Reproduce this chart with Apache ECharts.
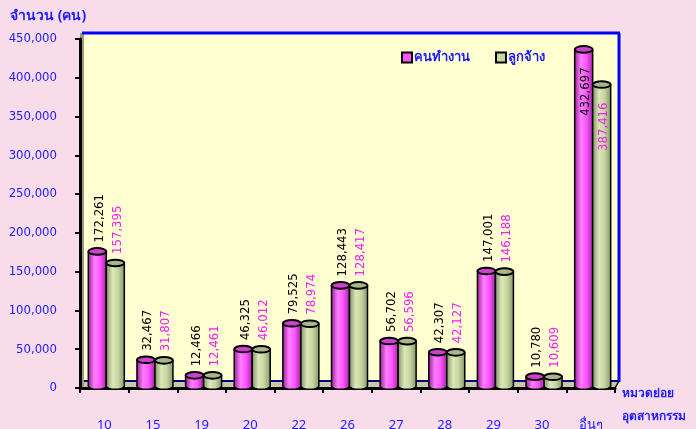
<!DOCTYPE html>
<html>
<head>
<meta charset="utf-8">
<script src="https://cdn.jsdelivr.net/npm/echarts@6/dist/echarts.min.js"></script>
<style>
  html, body { margin: 0; padding: 0; background: #f9dcea; }
  #chart { width: 696px; height: 429px; }
</style>
</head>
<body>
<div id="chart"></div>
<script>
// หมวดย่อยอุตสาหกรรม
const categories = ['10', '15', '19', '20', '22', '26', '27', '28', '29', '30', 'อื่นๆ']
// คนทำงาน
const workers = [172261, 32467, 12466, 46325, 79525, 128443, 56702, 42307, 147001, 10780, 432697]
// ลูกจ้าง
const employees = [157395, 31807, 12461, 46012, 78974, 128417, 56596, 42127, 146188, 10609, 387416]
const yTicks = [0, 50000, 100000, 150000, 200000, 250000, 300000, 350000, 400000, 450000]

const BLUE = '#1c1cff'
const NUM_FONT = '"DejaVu Sans Condensed", "DejaVu Sans", sans-serif'
const THAI_FONT = 'Tahoma, "Noto Sans", "DejaVu Sans", sans-serif'

const measure = document.createElement('canvas').getContext('2d')
measure.font = '13px ' + NUM_FONT

const fmt = (v) => v.toLocaleString('en-US')

// ทรงกระบอก 1 แท่ง (ยกขึ้น 3px ตามความลึก 3 มิติ)
const cylinderSeries = (name, data, side, colors) => ({
  name: name,
  type: 'custom',
  data: data.map((v, i) => [i, v]),
  encode: { x: 0, y: 1 },
  itemStyle: { color: colors.legend },
  z: 5,
  renderItem: (params, api) => {
    const value = api.value(1)
    const pt = api.coord([api.value(0), value])
    const top = pt[1] - 3
    const base = api.coord([api.value(0), 0])[1] - 2
    const rx = 9
    const ry = 3.3
    const cx = pt[0] + side * 9 + 2
    const grad = new echarts.graphic.LinearGradient(0, 0, 1, 0, colors.body)

    const text = fmt(value)
    const len = measure.measureText(text).width
    const outside = top - 9 - len > params.coordSys.y
    const label = outside
      ? { y: top - 9, align: 'left' }
      : { y: top + 18, align: 'right' }

    return {
      type: 'group',
      children: [
        {
          type: 'ellipse',
          shape: { cx: cx, cy: base, rx: rx, ry: ry },
          style: { fill: grad, stroke: '#000', lineWidth: 1.5 }
        },
        {
          type: 'rect',
          shape: { x: cx - rx, y: top, width: rx * 2, height: base - top },
          style: { fill: grad }
        },
        {
          type: 'line',
          shape: { x1: cx - rx, y1: top, x2: cx - rx, y2: base },
          style: { stroke: '#000', lineWidth: 1.5 }
        },
        {
          type: 'line',
          shape: { x1: cx + rx, y1: top, x2: cx + rx, y2: base },
          style: { stroke: '#000', lineWidth: 1.5 }
        },
        {
          type: 'ellipse',
          shape: { cx: cx, cy: top, rx: rx, ry: ry },
          style: { fill: colors.top, stroke: '#000', lineWidth: 2 }
        },
        {
          type: 'text',
          x: cx + 2,
          y: label.y,
          rotation: Math.PI / 2,
          style: {
            text: text,
            fill: colors.label,
            font: '13px ' + NUM_FONT,
            align: label.align,
            verticalAlign: 'middle'
          }
        }
      ]
    }
  }
})

const chart = echarts.init(document.getElementById('chart'))

const option = {
  backgroundColor: '#f9dcea',
  animation: false,
  title: {
    text: 'จำนวน (คน)',
    left: 5,
    top: 4,
    textStyle: { color: BLUE, fontSize: 14, fontWeight: 'bold', fontFamily: THAI_FONT }
  },
  legend: {
    left: 396,
    top: 46,
    icon: 'rect',
    itemWidth: 10,
    itemHeight: 10,
    itemGap: 25,
    itemStyle: { borderColor: '#000', borderWidth: 2 },
    textStyle: { color: BLUE, fontSize: 13, fontWeight: 'bold', fontFamily: THAI_FONT, padding: [0, 0, 0, -3] },
    data: ['คนทำงาน', 'ลูกจ้าง']
  },
  grid: { left: 80, right: 81, top: 39, bottom: 41, outerBoundsMode: 'none', containLabel: false },
  // ผนังหลัง / พื้น แบบ 3 มิติ
  graphic: [
    { type: 'rect', z: -10, shape: { x: 80, y: 33, width: 539, height: 355 }, style: { fill: '#ffffd2' } },
    { type: 'polygon', z: -9, shape: { points: [[80, 388], [80, 381], [619, 381], [615, 388]] }, style: { fill: '#c9c9aa' } },
    { type: 'line', z: -8, shape: { x1: 84, y1: 381, x2: 619, y2: 381 }, style: { stroke: '#000080', lineWidth: 2 } },
    { type: 'rect', z: -9, shape: { x: 80, y: 33, width: 4, height: 355 }, style: { fill: '#9a9a7e' } },
    { type: 'line', z: -8, shape: { x1: 82, y1: 33, x2: 620, y2: 33 }, style: { stroke: '#0000ff', lineWidth: 3 } },
    { type: 'line', z: -8, shape: { x1: 619, y1: 33, x2: 619, y2: 382 }, style: { stroke: '#0000ff', lineWidth: 3 } },
    { type: 'line', z: -8, shape: { x1: 619, y1: 381, x2: 615, y2: 388 }, style: { stroke: '#000', lineWidth: 1.5 } }
  ],
  xAxis: {
    type: 'category',
    data: categories,
    name: 'หมวดย่อย\nอุตสาหกรรม',
    nameLocation: 'end',
    nameGap: 7,
    nameTextStyle: {
      color: BLUE, fontSize: 12, fontWeight: 'bold', fontFamily: THAI_FONT,
      align: 'left', verticalAlign: 'top', lineHeight: 23, padding: [-6, 0, 0, 0]
    },
    axisLine: { lineStyle: { color: '#000', width: 3 } },
    axisTick: { show: true, length: 5, lineStyle: { color: '#000', width: 2 } },
    axisLabel: { color: BLUE, fontSize: 13, margin: 31, fontFamily: THAI_FONT }
  },
  yAxis: {
    type: 'value',
    min: yTicks[0],
    max: yTicks[yTicks.length - 1],
    interval: yTicks[1] - yTicks[0],
    axisLine: { show: true, lineStyle: { color: '#000', width: 3 } },
    axisTick: { show: true, length: 5, lineStyle: { color: '#000', width: 2 } },
    splitLine: { show: false },
    axisLabel: {
      color: BLUE, fontSize: 13, margin: 23, fontFamily: NUM_FONT,
      formatter: (v) => fmt(v)
    }
  },
  series: [
    cylinderSeries('คนทำงาน', workers, -1, {
      legend: '#ff55ff',
      top: '#d040d0',
      label: '#000',
      body: [
        { offset: 0, color: '#a020a0' },
        { offset: 0.35, color: '#ff80ff' },
        { offset: 0.65, color: '#ff55ff' },
        { offset: 1, color: '#a526a5' }
      ]
    }),
    cylinderSeries('ลูกจ้าง', employees, 1, {
      legend: '#c8d6a0',
      top: '#a8b68a',
      label: '#ee22ee',
      body: [
        { offset: 0, color: '#85946a' },
        { offset: 0.35, color: '#dce8b8' },
        { offset: 0.65, color: '#c8d6a0' },
        { offset: 1, color: '#8a9a6c' }
      ]
    })
  ]
}

chart.setOption(option)
</script>
</body>
</html>
